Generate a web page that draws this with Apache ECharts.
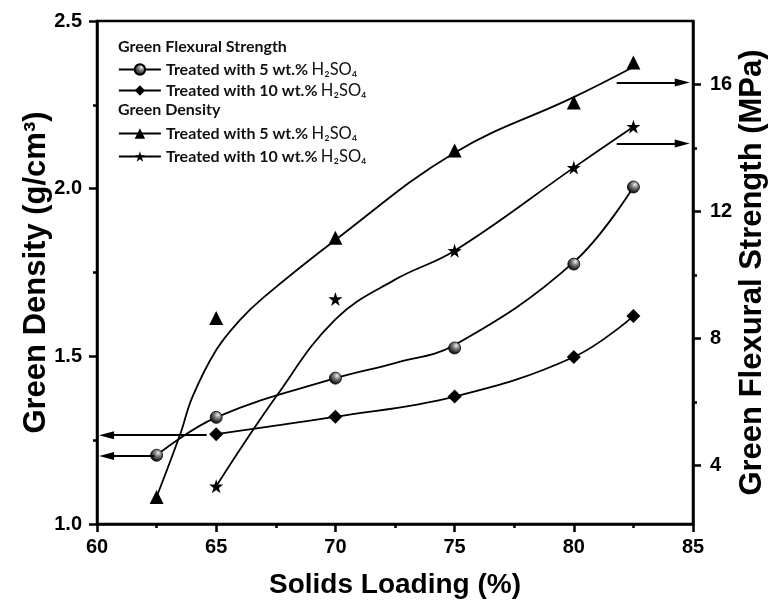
<!DOCTYPE html>
<html>
<head>
<meta charset="utf-8">
<script src="https://cdn.jsdelivr.net/npm/echarts@6/dist/echarts.min.js"></script>
<style>
  html, body { margin: 0; padding: 0; background: #fff; }
  #chart { width: 774px; height: 605px; }
</style>
</head>
<body>
<div id="chart"></div>
<script>
// Solids loading (%) at which each sample was measured
const loadingFlex5 = [62.5, 65, 70, 75, 80, 82.5];
const loadingFlex10 = [65, 70, 75, 80, 82.5];
const loadingDens5 = [62.5, 65, 70, 75, 80, 82.5];
const loadingDens10 = [65, 70, 75, 80, 82.5];

// Measured values (left-axis series)
const flex5 = [1.205, 1.318, 1.435, 1.525, 1.775, 2.005];
const flex10 = [1.268, 1.32, 1.38, 1.498, 1.62];

// Measured values (right-axis series)
const dens5 = [3.0, 8.64, 11.17, 13.92, 15.43, 16.69];
const dens10 = [3.34, 9.24, 10.76, 13.38, 14.67];

// Fitted trend curves
const flex5FitX = [62.5, 65, 70, 72.5, 75, 80, 82.5];
const flex5Fit = [1.205, 1.318, 1.435, 1.48, 1.534, 1.781, 2.005];
const dens5FitX = [62.5, 63.5, 64, 65, 66, 67, 70, 75, 80, 82.5];
const dens5Fit = [3.0, 5.0, 6.15, 7.63, 8.58, 9.3, 11.1, 13.85, 15.6, 16.55];
const dens10FitX = [65, 67.5, 70, 72.5, 75, 80, 82.5];
const dens10Fit = [3.34, 6.15, 8.6, 9.85, 10.76, 13.38, 14.67];

// Axis tick values
const xTicks = [60, 65, 70, 75, 80, 85];
const leftTicks = [1.0, 1.5, 2.0, 2.5];
const rightTicks = [4, 8, 12, 16];
const rightMinorTicks = [6, 10, 14];

// Arrows pointing each curve family to its axis (data coordinates)
const leftArrows = [
  { from: 62.4, to: 60.4, y: 1.203 },
  { from: 64.6, to: 60.4, y: 1.265 }
];
const rightArrows = [
  { from: 81.8, to: 84.55, y: 16.06 },
  { from: 81.8, to: 84.55, y: 14.14 }
];

const NAME_F5 = 'Green Flexural Strength: 5 wt.%';
const NAME_F10 = 'Green Flexural Strength: 10 wt.%';
const NAME_D5 = 'Green Density: 5 wt.%';
const NAME_D10 = 'Green Density: 10 wt.%';

const pairs = (xs, ys) => xs.map((x, i) => [x, ys[i]]);

const STAR = 'path://M50,0 L61.2,34.5 L97.6,34.5 L68.2,55.9 L79.4,90.5 L50,69.1 L20.6,90.5 L31.8,55.9 L2.4,34.5 L38.8,34.5 Z';

const sphere = {
  type: 'radial', x: 0.62, y: 0.32, r: 0.75,
  colorStops: [
    { offset: 0, color: '#f2f2f2' },
    { offset: 0.3, color: '#8a8a8a' },
    { offset: 0.75, color: '#222' },
    { offset: 1, color: '#050505' }
  ]
};

const AXIS_FONT = 'Liberation Sans, Arial, sans-serif';
const LEGEND_FONT = 'Lato, sans-serif';

const arrowPair = (a) => [
  { coord: [a.from, a.y], symbol: 'none' },
  { coord: [a.to, a.y], symbol: 'triangle', symbolSize: [8, 15] }
];

const markLineBase = {
  silent: true,
  animation: false,
  symbol: ['none', 'triangle'],
  lineStyle: { color: '#000', width: 1.8, type: 'solid' },
  itemStyle: { color: '#000' },
  label: { show: false },
  emphasis: { disabled: true }
};

const legendFormatter = (name) => {
  const pct = name.indexOf('10 wt') >= 0 ? '10' : '5';
  return '{t|Treated with ' + pct + ' wt.%} {h|H\u2082SO\u2084}';
};

const legendBase = {
  orient: 'vertical',
  left: 118,
  padding: 0,
  itemWidth: 42,
  itemHeight: 13,
  selectedMode: false,
  formatter: legendFormatter,
  lineStyle: { width: 1.8, color: '#000' },
  textStyle: {
    rich: {
      t: { fontFamily: LEGEND_FONT, fontWeight: 'bold', fontSize: 16, color: '#111', lineHeight: 16 },
      h: { fontFamily: LEGEND_FONT, fontWeight: 'normal', fontSize: 16.5, color: '#111', lineHeight: 16 }
    }
  }
};

const axisLineStyle = { color: '#000', width: 2.5 };
const titleStyle = (size) => ({ fontFamily: AXIS_FONT, fontWeight: 'bold', fontSize: size, color: '#000' });
const tickFont = { fontFamily: AXIS_FONT, fontWeight: 'bold', fontSize: 20, color: '#000' };

// marker-only series: the line is hidden on the plot but shown in the legend
const markerSeries = (name, xs, ys, axis, symbol, size, itemStyle) => ({
  name, type: 'line', yAxisIndex: axis,
  data: pairs(xs, ys),
  symbol, symbolSize: size,
  itemStyle,
  lineStyle: { color: '#000', width: 0 },
  z: 4
});

const fitSeries = (name, xs, ys, axis, extra) => Object.assign({
  name, type: 'line', yAxisIndex: axis,
  data: pairs(xs, ys),
  smooth: 0.4, showSymbol: false,
  lineStyle: { color: '#000', width: 1.8 },
  z: 2
}, extra || {});

const chart = echarts.init(document.getElementById('chart'), null, { renderer: 'canvas' });

chart.setOption({
  animation: false,
  backgroundColor: '#fff',
  grid: {
    left: 97, right: 81, top: 21, bottom: 81,
    outerBoundsMode: 'none', containLabel: false,
    show: true, borderColor: '#000', borderWidth: 2.5, backgroundColor: 'transparent'
  },
  graphic: [
    {
      type: 'text', left: 118, top: 39,
      style: { text: 'Green Flexural Strength', font: 'bold 16px ' + LEGEND_FONT, fill: '#111' }
    },
    {
      type: 'text', left: 118, top: 102,
      style: { text: 'Green Density', font: 'bold 16px ' + LEGEND_FONT, fill: '#111' }
    }
  ],
  legend: [
    Object.assign({}, legendBase, { top: 61, itemGap: 4, data: [NAME_F5, NAME_F10] }),
    Object.assign({}, legendBase, { top: 125, itemGap: 6, data: [NAME_D5, NAME_D10] })
  ],
  xAxis: {
    type: 'value',
    min: xTicks[0], max: xTicks[xTicks.length - 1], interval: 5,
    name: 'Solids Loading (%)',
    nameLocation: 'middle', nameGap: 47, nameMoveOverlap: false,
    nameTextStyle: titleStyle(28),
    axisLine: { lineStyle: axisLineStyle },
    axisTick: { length: 8, lineStyle: { color: '#000', width: 2.5 } },
    minorTick: { show: true, splitNumber: 2, length: 4, lineStyle: { color: '#000', width: 2.5 } },
    axisLabel: Object.assign({ margin: 13 }, tickFont),
    splitLine: { show: false }
  },
  yAxis: [
    {
      type: 'value', position: 'left',
      min: leftTicks[0], max: leftTicks[leftTicks.length - 1], interval: 0.5,
      name: 'Green Density (g/cm\u00b3)',
      nameLocation: 'middle', nameGap: 45, nameMoveOverlap: false,
      nameTextStyle: titleStyle(31),
      axisLine: { show: true, lineStyle: axisLineStyle },
      axisTick: { length: 8, lineStyle: { color: '#000', width: 2.5 } },
      minorTick: { show: true, splitNumber: 2, length: 4, lineStyle: { color: '#000', width: 2.5 } },
      axisLabel: Object.assign({ margin: 15, formatter: (v) => v.toFixed(1) }, tickFont),
      splitLine: { show: false }
    },
    {
      type: 'value', position: 'right', offset: 0,
      min: 2.15, max: 18,
      name: 'Green Flexural Strength (MPa)',
      nameLocation: 'middle', nameGap: 44, nameRotate: 90, nameMoveOverlap: false,
      nameTextStyle: titleStyle(31),
      axisLine: { show: true, lineStyle: axisLineStyle },
      axisTick: { length: 8, customValues: rightTicks, lineStyle: { color: '#000', width: 2.5 } },
      axisLabel: Object.assign({ margin: 17, customValues: rightTicks }, tickFont),
      splitLine: { show: false }
    },
    {
      type: 'value', position: 'right', offset: 0,
      min: 2.15, max: 18,
      axisLine: { show: false },
      axisTick: { show: true, length: 4, customValues: rightMinorTicks, lineStyle: { color: '#000', width: 2.5 } },
      axisLabel: { show: false },
      splitLine: { show: false }
    }
  ],
  series: [
    markerSeries(NAME_F5, loadingFlex5, flex5, 0, 'circle', 12,
      { color: sphere, borderColor: '#000', borderWidth: 0.8 }),
    {
      name: NAME_F10, type: 'line', yAxisIndex: 0,
      data: pairs(loadingFlex10, flex10),
      smooth: 0.4,
      symbol: 'diamond', symbolSize: 14,
      itemStyle: { color: '#000' },
      lineStyle: { color: '#000', width: 1.8 },
      z: 3
    },
    markerSeries(NAME_D5, loadingDens5, dens5, 1, 'triangle', 14, { color: '#000' }),
    markerSeries(NAME_D10, loadingDens10, dens10, 1, STAR, 14, { color: '#000' }),
    fitSeries('Strength fit 5 wt.%', flex5FitX, flex5Fit, 0, {
      markLine: Object.assign({}, markLineBase, { data: leftArrows.map(arrowPair) })
    }),
    fitSeries('Density fit 5 wt.%', dens5FitX, dens5Fit, 1, {
      markLine: Object.assign({}, markLineBase, { data: rightArrows.map(arrowPair) })
    }),
    fitSeries('Density fit 10 wt.%', dens10FitX, dens10Fit, 1)
  ]
});
</script>
</body>
</html>
